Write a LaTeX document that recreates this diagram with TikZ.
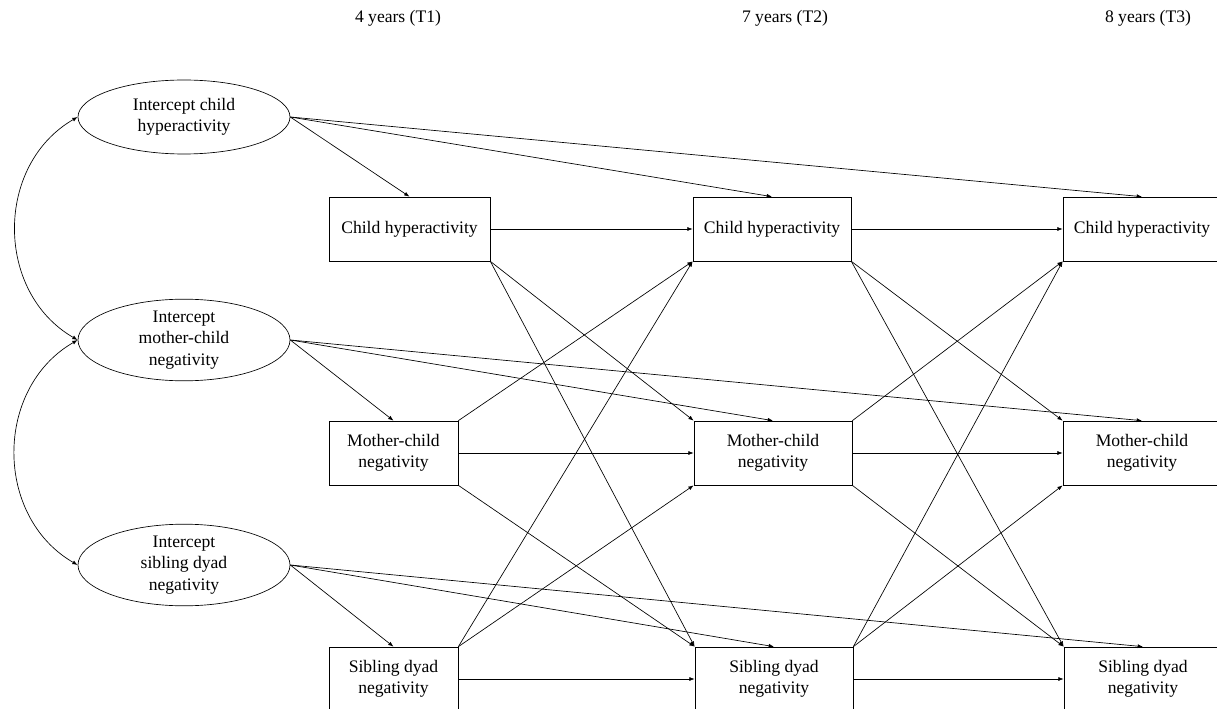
\documentclass[tikz,border=0pt]{standalone}
\usepackage{fontspec}
\setmainfont{Liberation Serif}
\usetikzlibrary{shapes.geometric,arrows.meta}
\begin{document}
\begin{tikzpicture}[x=0.75pt,y=-0.75pt,font=\fontsize{13.2}{15.9}\selectfont,
lat/.style={ellipse, draw, line width=0.5pt, minimum width=159pt, minimum height=55.5pt, inner sep=0pt, align=center},
obs/.style={rectangle, draw, line width=0.5pt, minimum width=118.5pt, minimum height=48pt, inner sep=0pt, align=center},
reg/.style={-{Latex[length=4pt,width=3pt]}, line width=0.5pt},
cov/.style={{Latex[length=4pt,width=3pt]}-{Latex[length=4pt,width=3pt]}, line width=0.5pt, looseness=1.1}]
\useasboundingbox (0,0) rectangle (1217,709);
\node (t1) at (398,18){4 years (T1)};
\node (t2) at (785,18){7 years (T2)};
\node (t3) at (1148,18){8 years (T3)};
\node[lat] (ihyp) at (184,117){Intercept child\\hyperactivity};
\node[lat] (imc) at (184,340){Intercept\\mother-child\\negativity};
\node[lat] (isib) at (184,565){Intercept\\sibling dyad\\negativity};
\draw[cov] (ihyp.west) to[out=210,in=150] (imc.west);
\draw[cov] (imc.west) to[out=210,in=150] (isib.west);
\node[obs, minimum width=120.75pt] (hyp1) at (409.5,229){Child hyperactivity};
\node[obs] (hyp2) at (772,229){Child hyperactivity};
\node[obs] (hyp3) at (1142,229){Child hyperactivity};
\node[obs, minimum width=96.75pt] (mc1) at (393.5,453){Mother-child\\negativity};
\node[obs] (mc2) at (773,453){Mother-child\\negativity};
\node[obs] (mc3) at (1142,453){Mother-child\\negativity};
\node[obs, minimum width=96.75pt] (sib1) at (393.5,679){Sibling dyad\\negativity};
\node[obs] (sib2) at (774,679){Sibling dyad\\negativity};
\node[obs] (sib3) at (1143,679){Sibling dyad\\negativity};
\draw[reg] (ihyp.east) -- (hyp1.north);
\draw[reg] (ihyp.east) -- (hyp2.north);
\draw[reg] (ihyp.east) -- (hyp3.north);
\draw[reg] (imc.east) -- (mc1.north);
\draw[reg] (imc.east) -- (mc2.north);
\draw[reg] (imc.east) -- (mc3.north);
\draw[reg] (isib.east) -- (sib1.north);
\draw[reg] (isib.east) -- (sib2.north);
\draw[reg] (isib.east) -- (sib3.north);
\draw[reg] (hyp1) -- (hyp2);
\draw[reg] (hyp2) -- (hyp3);
\draw[reg] (mc1) -- (mc2);
\draw[reg] (mc2) -- (mc3);
\draw[reg] (sib1.east |- sib2.west) -- (sib2.west);
\draw[reg] (sib2.east |- sib3.west) -- (sib3.west);
\draw[reg] (hyp1.south east) -- (mc2.north west);
\draw[reg] (hyp1.south east) -- (sib2.north west);
\draw[reg] (mc1.north east) -- (hyp2.south west);
\draw[reg] (mc1.south east) -- (sib2.north west);
\draw[reg] (sib1.north east) -- (hyp2.south west);
\draw[reg] (sib1.north east) -- (mc2.south west);
\draw[reg] (hyp2.south east) -- (mc3.north west);
\draw[reg] (hyp2.south east) -- (sib3.north west);
\draw[reg] (mc2.north east) -- (hyp3.south west);
\draw[reg] (mc2.south east) -- (sib3.north west);
\draw[reg] (sib2.north east) -- (hyp3.south west);
\draw[reg] (sib2.north east) -- (mc3.south west);
\end{tikzpicture}
\end{document}
